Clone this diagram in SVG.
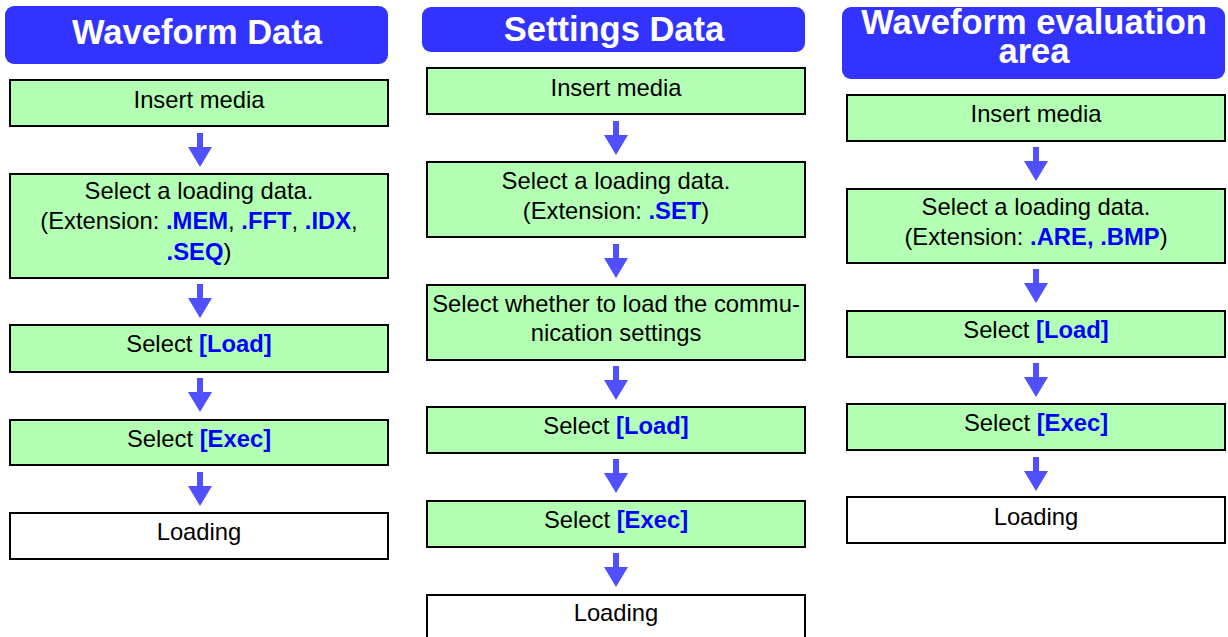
<svg xmlns="http://www.w3.org/2000/svg" xmlns:xlink="http://www.w3.org/1999/xlink" width="1228" height="637" viewBox="0 0 1228 637">
<style>
.hdr{fill:#3333ff}
.ht{font-family:"Liberation Sans",Arial,sans-serif;font-weight:bold;font-size:34.5px;fill:#ffffff;text-anchor:middle}
.box{fill:#b3ffb3;stroke:#000000;stroke-width:2}
.wbox{fill:#ffffff;stroke:#000000;stroke-width:2}
.t{font-family:"Liberation Sans",Arial,sans-serif;font-size:23.8px;fill:#000000;text-anchor:middle}
.b{font-weight:bold;fill:#0000ff}
.arr{fill:#5050ff}
</style>
<defs>
<path id="arrow" d="M-3,0 H3 V14 H12 L0,34 L-12,14 H-3 Z"/>
</defs>
<rect width="1228" height="637" fill="#ffffff"/>

<g id="col1-header"><rect class="hdr" x="5" y="6" width="383" height="58" rx="9"/><text class="ht" x="197" y="44">Waveform Data</text></g>
<g id="c1n1"><rect class="box" x="10" y="80" width="378" height="46"/><text class="t" x="199" y="108">Insert media</text></g>
<g id="c1n2"><rect class="box" x="10" y="174" width="378" height="104"/><text class="t" x="199" y="199">Select a loading data.</text><text class="t" x="199" y="229">(Extension: <tspan class="b">.MEM</tspan>, <tspan class="b">.FFT</tspan>, <tspan class="b">.IDX</tspan>,</text><text class="t" x="199" y="260"><tspan class="b">.SEQ</tspan>)</text></g>
<g id="c1n3"><rect class="box" x="10" y="325" width="378" height="47"/><text class="t" x="199" y="352">Select <tspan class="b">[Load]</tspan></text></g>
<g id="c1n4"><rect class="box" x="10" y="420" width="378" height="45"/><text class="t" x="199" y="447">Select <tspan class="b">[Exec]</tspan></text></g>
<g id="c1n5"><rect class="wbox" x="10" y="513" width="378" height="46"/><text class="t" x="199" y="540">Loading</text></g>

<g id="col2-header"><rect class="hdr" x="422" y="7" width="383" height="45" rx="9"/><text class="ht" x="614" y="41">Settings Data</text></g>
<g id="c2n1"><rect class="box" x="427" y="68" width="378" height="46"/><text class="t" x="616" y="96">Insert media</text></g>
<g id="c2n2"><rect class="box" x="427" y="162" width="378" height="75"/><text class="t" x="616" y="189">Select a loading data.</text><text class="t" x="616" y="219">(Extension: <tspan class="b">.SET</tspan>)</text></g>
<g id="c2n3"><rect class="box" x="427" y="285" width="378" height="75"/><text class="t" x="616" y="312">Select whether to load the commu-</text><text class="t" x="616" y="341">nication settings</text></g>
<g id="c2n4"><rect class="box" x="427" y="407" width="378" height="46"/><text class="t" x="616" y="434">Select <tspan class="b">[Load]</tspan></text></g>
<g id="c2n5"><rect class="box" x="427" y="501" width="378" height="46"/><text class="t" x="616" y="528">Select <tspan class="b">[Exec]</tspan></text></g>
<g id="c2n6"><rect class="wbox" x="427" y="595" width="378" height="46"/><text class="t" x="616" y="621">Loading</text></g>

<g id="col3-header"><rect class="hdr" x="842" y="7" width="383" height="72" rx="9"/><text class="ht" x="1034" y="34">Waveform evaluation</text><text class="ht" x="1034" y="63">area</text></g>
<g id="c3n1"><rect class="box" x="847" y="95" width="378" height="46"/><text class="t" x="1036" y="122">Insert media</text></g>
<g id="c3n2"><rect class="box" x="847" y="189" width="378" height="74"/><text class="t" x="1036" y="215">Select a loading data.</text><text class="t" x="1036" y="245">(Extension: <tspan class="b">.ARE, .BMP</tspan>)</text></g>
<g id="c3n3"><rect class="box" x="847" y="311" width="378" height="46"/><text class="t" x="1036" y="338">Select <tspan class="b">[Load]</tspan></text></g>
<g id="c3n4"><rect class="box" x="847" y="404" width="378" height="46"/><text class="t" x="1036" y="431">Select <tspan class="b">[Exec]</tspan></text></g>
<g id="c3n5"><rect class="wbox" x="847" y="497" width="378" height="46"/><text class="t" x="1036" y="525">Loading</text></g>

<g id="connectors" class="arr">
<use xlink:href="#arrow" href="#arrow" x="200" y="133"/>
<use xlink:href="#arrow" href="#arrow" x="200" y="284"/>
<use xlink:href="#arrow" href="#arrow" x="200" y="378"/>
<use xlink:href="#arrow" href="#arrow" x="200" y="472"/>
<use xlink:href="#arrow" href="#arrow" x="616" y="121"/>
<use xlink:href="#arrow" href="#arrow" x="616" y="244"/>
<use xlink:href="#arrow" href="#arrow" x="616" y="366"/>
<use xlink:href="#arrow" href="#arrow" x="616" y="459"/>
<use xlink:href="#arrow" href="#arrow" x="616" y="553"/>
<use xlink:href="#arrow" href="#arrow" x="1036" y="147"/>
<use xlink:href="#arrow" href="#arrow" x="1036" y="269"/>
<use xlink:href="#arrow" href="#arrow" x="1036" y="363"/>
<use xlink:href="#arrow" href="#arrow" x="1036" y="457"/>
</g>
</svg>
